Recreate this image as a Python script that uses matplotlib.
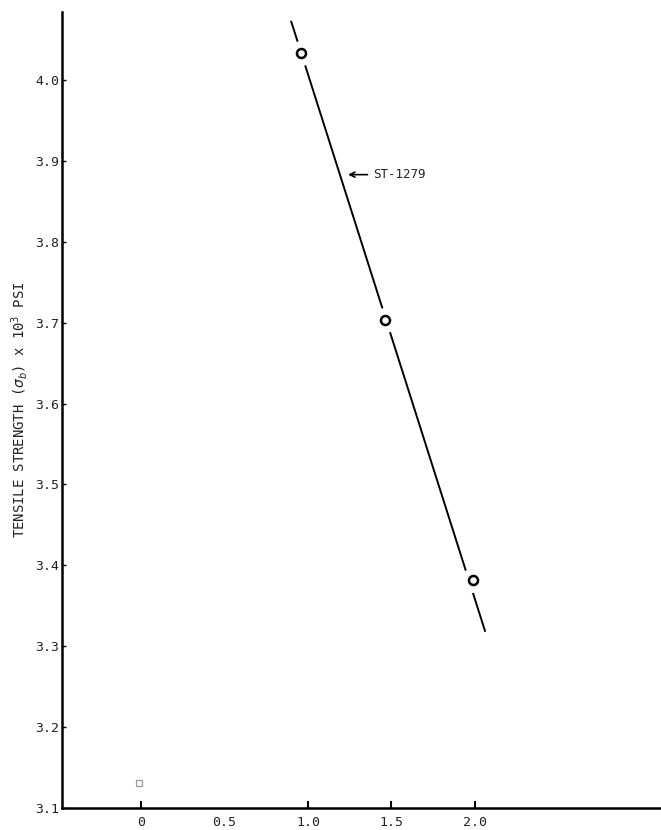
import matplotlib.pyplot as plt

# measured points, ST-1279
x_pts = [0.96, 1.46, 1.99]
y_pts = [4.033, 3.703, 3.382]

# straight-line fit through the points, as drawn
fit_x = [0.90, 2.06]
fit_y = [4.072, 3.319]

# lone reference point near the origin
ref_x = [-0.01]
ref_y = [3.131]

xticks = [0, 0.5, 1.0, 1.5, 2.0]
xlabels = ["0", "0.5", "1.0", "1.5", "2.0"]
yticks = [3.1, 3.2, 3.3, 3.4, 3.5, 3.6, 3.7, 3.8, 3.9, 4.0]
ylabels = ["3.1", "3.2", "3.3", "3.4", "3.5", "3.6", "3.7", "3.8", "3.9", "4.0"]

plt.rcParams['font.family'] = ['DejaVu Sans Mono']
plt.rcParams['mathtext.fontset'] = 'dejavusans'

fig = plt.figure(figsize=(6.61, 8.30), dpi=100)
ax = fig.add_axes([0.0938, 0.0265, 0.9062, 0.959])

ax.plot(fit_x, fit_y, color='black', linewidth=1.4, zorder=2)
# white halo so the line breaks around each point
ax.plot(x_pts, y_pts, linestyle='none', marker='o', markersize=17,
        markerfacecolor='white', markeredgecolor='white', zorder=3)
ax.plot(x_pts, y_pts, linestyle='none', marker='o', markersize=6.5,
        markerfacecolor='white', markeredgecolor='black', markeredgewidth=1.8, zorder=4)
ax.plot(ref_x, ref_y, linestyle='none', marker='s', markersize=4.5,
        markerfacecolor='white', markeredgecolor='#9a9a9a', markeredgewidth=0.9, zorder=4)

ax.annotate("ST-1279", xy=(1.24, 3.883), xytext=(1.39, 3.883),
            fontsize=9, va='center', ha='left', color='#222222',
            arrowprops=dict(arrowstyle='->', color='black', lw=1.2,
                            shrinkA=2, shrinkB=0))

ax.set_xlim(-0.473, 3.114)
ax.set_ylim(3.1, 4.084)

ax.set_xticks(xticks)
ax.set_xticklabels(xlabels)
ax.set_yticks(yticks)
ax.set_yticklabels(ylabels)
ax.tick_params(axis='x', direction='in', length=5, width=1.5, pad=6,
               labelsize=9.5, labelcolor='#222222')
ax.tick_params(axis='y', direction='in', length=3, width=1.0, pad=2,
               labelsize=9.5, labelcolor='#222222')
ax.xaxis.get_major_ticks()[1].tick1line.set_visible(False)

ax.spines['top'].set_visible(False)
ax.spines['right'].set_visible(False)
ax.spines['left'].set_linewidth(1.8)
ax.spines['bottom'].set_linewidth(1.8)

ax.set_ylabel(r"TENSILE STRENGTH ($\sigma_b$) x 10$^3$ PSI", fontsize=10,
              labelpad=4, color='#222222')

plt.savefig("out.png", dpi=100)
